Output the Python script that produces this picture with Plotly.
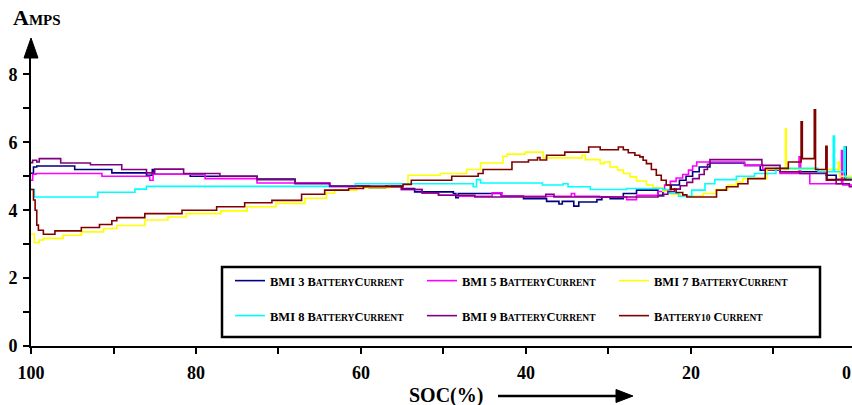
import plotly.graph_objects as go

# ---------------- data (SOC %, Amps) ----------------
bmi3 = [(100, 5.09), (99.7, 5.27), (99.3, 5.30), (94.7, 5.20), (90.2, 5.10), (86.0, 5.03),
        (85.3, 5.20), (85.1, 5.06), (80.7, 5.00), (72.6, 4.92), (68.0, 4.80), (63.8, 4.71),
        (59.0, 4.66), (57.0, 4.71), (55.0, 4.64), (53.5, 4.54), (48.8, 4.49), (48.5, 4.37),
        (48.2, 4.49), (43.0, 4.42), (40.3, 4.34), (37.5, 4.26), (36.0, 4.18), (35.6, 4.26),
        (34.2, 4.12), (33.6, 4.24), (31.4, 4.31), (30.8, 4.39), (29.8, 4.34), (28.2, 4.49),
        (26.6, 4.59), (24.0, 4.44), (23.4, 4.60), (22.4, 4.74), (21.4, 4.88), (20.6, 5.00),
        (19.8, 5.13), (19.0, 5.27), (17.7, 5.39), (13.5, 5.32), (11.6, 5.18), (9.2, 5.13),
        (3.6, 5.03), (2.4, 4.90), (1.35, 5.86), (1.2, 4.90), (0.5, 4.90)]

bmi5 = [(100, 4.88), (99.8, 5.06), (99.4, 5.08), (91.4, 5.00), (85.6, 4.88), (85.2, 5.06),
        (78.9, 4.93), (72.6, 4.80), (63.8, 4.69), (55.1, 4.61), (52.6, 4.51), (50.6, 4.44),
        (48.2, 4.41), (44.1, 4.51), (42.9, 4.41), (34.5, 4.49), (34.1, 4.41), (31.1, 4.39),
        (27.8, 4.31), (26.6, 4.44), (24.0, 4.55), (23.2, 4.74), (22.5, 4.85), (21.8, 4.95),
        (21.0, 5.05), (20.3, 5.18), (19.8, 5.30), (19.3, 5.42), (13.5, 5.32), (11.3, 5.20),
        (9.2, 5.08), (6.9, 5.57), (6.7, 5.08), (5.6, 4.78), (1.75, 5.76), (1.6, 4.74),
        (0.5, 4.69)]

bmi7 = [(100, 3.30), (99.6, 3.05), (99.0, 3.12), (98.5, 3.17), (96.1, 3.26), (93.9, 3.36),
        (91.2, 3.46), (89.6, 3.55), (86.2, 3.71), (83.4, 3.80), (81.2, 3.90), (77.0, 3.98),
        (73.8, 4.10), (70.3, 4.20), (66.8, 4.35), (64.2, 4.50), (63.2, 4.59), (60.5, 4.66),
        (56.5, 4.78), (54.3, 5.03), (50.4, 5.08), (47.2, 5.20), (45.5, 5.39), (42.8, 5.59),
        (42.3, 5.65), (40.1, 5.71), (37.9, 5.54), (33.2, 5.62), (32.8, 5.49), (31.0, 5.37),
        (30.5, 5.42), (29.8, 5.27), (28.9, 5.18), (28.2, 5.08), (27.4, 4.98), (26.6, 4.86),
        (25.4, 4.74), (24.6, 4.66), (23.4, 4.56), (22.4, 4.47), (21.3, 4.42), (18.5, 4.49),
        (17.0, 4.61), (15.5, 4.74), (14.5, 4.83), (13.7, 4.93), (10.8, 5.20), (8.55, 6.40),
        (8.45, 5.20), (2.15, 5.42), (2.0, 5.00), (0.5, 4.95)]

bmi8 = [(100, 4.61), (99.6, 4.39), (91.9, 4.53), (87.4, 4.62), (86.0, 4.70), (60.7, 4.78),
        (46.4, 4.69), (46.0, 4.90), (45.5, 4.80), (38.0, 4.74), (35.5, 4.78), (34.9, 4.69),
        (32.2, 4.61), (27.8, 4.64), (23.4, 4.61), (22.6, 4.50), (21.5, 4.41), (19.9, 4.59),
        (18.3, 4.78), (17.1, 4.90), (14.5, 5.00), (12.3, 5.08), (9.7, 5.23), (4.6, 5.13),
        (2.75, 6.18), (2.6, 5.13), (1.45, 5.86), (1.3, 4.95), (0.5, 4.95)]

bmi9 = [(100, 5.40), (99.8, 5.47), (99.3, 5.42), (99.0, 5.52), (96.4, 5.39), (92.8, 5.34),
        (89.0, 5.20), (86.0, 5.10), (85.0, 5.21), (81.5, 5.08), (77.1, 5.00), (72.6, 4.90),
        (68.0, 4.78), (63.8, 4.71), (55.1, 4.61), (52.6, 4.51), (50.6, 4.44), (46.2, 4.39),
        (37.6, 4.47), (36.6, 4.39), (24.0, 4.42), (23.3, 4.47), (22.8, 4.55), (22.0, 4.62),
        (21.3, 4.72), (20.5, 4.82), (19.8, 4.93), (19.0, 5.05), (18.4, 5.20), (18.0, 5.35),
        (17.7, 5.49), (11.4, 5.32), (9.2, 5.13), (6.8, 5.08), (3.6, 4.88), (2.4, 4.78),
        (0.8, 4.69), (0.5, 4.69)]

battery10 = [(100, 4.61), (99.7, 4.30), (99.5, 4.00), (99.3, 3.56), (99.1, 3.41), (98.5, 3.29),
             (97.1, 3.39), (93.9, 3.49), (91.7, 3.58), (90.2, 3.69), (89.6, 3.78), (86.2, 3.90),
             (81.7, 4.00), (77.5, 4.10), (74.1, 4.22), (70.8, 4.29), (67.2, 4.47), (64.4, 4.59),
             (61.5, 4.64), (59.7, 4.69), (54.9, 4.76), (53.9, 4.88), (49.0, 5.00), (45.8, 5.08),
             (45.2, 5.20), (41.7, 5.42), (39.7, 5.48), (38.6, 5.55), (38.3, 5.48), (37.5, 5.62),
             (35.3, 5.71), (32.4, 5.86), (31.0, 5.78), (28.8, 5.86), (28.2, 5.78), (27.6, 5.69),
             (26.8, 5.62), (26.2, 5.57), (25.8, 5.47), (25.4, 5.37), (24.8, 5.20), (24.2, 5.03),
             (23.6, 4.88), (23.0, 4.74), (22.5, 4.62), (21.8, 4.52), (21.0, 4.45), (20.5, 4.39),
             (16.9, 4.59), (15.7, 4.69), (14.3, 4.78), (13.1, 4.93), (11.0, 5.23), (8.2, 5.42),
             (6.65, 6.60), (6.5, 5.52), (5.05, 6.96), (4.9, 5.20), (3.65, 5.88), (3.5, 4.90),
             (0.5, 4.90)]

x_tick_vals = [100, 90, 80, 70, 60, 50, 40, 30, 20, 10]
x_tick_text = ["100", "", "80", "", "60", "", "40", "", "20", ""]
y_tick_vals = [0, 1, 2, 3, 4, 5, 6, 7, 8]
y_tick_text = ["0", "", "2", "", "4", "", "6", "", "8"]

SM = "font-size:9.5px"


def sc(word):
    return word[0] + "<span style='%s'>%s</span>" % (SM, word[1:])


series = [
    ("BMI 3 " + sc("BATTERY") + sc("CURRENT"), bmi3, "#000080", "legend"),
    ("BMI 5 " + sc("BATTERY") + sc("CURRENT"), bmi5, "#FF00FF", "legend"),
    ("BMI 7 " + sc("BATTERY") + sc("CURRENT"), bmi7, "#FFFF00", "legend"),
    ("BMI 8 " + sc("BATTERY") + sc("CURRENT"), bmi8, "#00FFFF", "legend2"),
    ("BMI 9 " + sc("BATTERY") + sc("CURRENT"), bmi9, "#800080", "legend2"),
    ("B<span style='%s'>ATTERY10</span> " % SM + sc("CURRENT"), battery10, "#800000", "legend2"),
]

SERIF = "Liberation Serif"
W, H = 852, 405
ML, MR, MT, MB = 31, 0, 54, 59
PW, PH = W - ML - MR, H - MT - MB


def px(x):
    return (x - ML) / PW


def py(y):
    return (H - MB - y) / PH


fig = go.Figure()
for name, pts, color, leg in series:
    fig.add_trace(go.Scatter(
        x=[p[0] for p in pts], y=[p[1] for p in pts], name=name, mode="lines",
        line=dict(color=color, width=1.6, shape="hv"), legend=leg))

legend_common = dict(orientation="h", xanchor="left", yanchor="middle",
                     bgcolor="rgba(0,0,0,0)", borderwidth=0, itemwidth=30,
                     entrywidth=147, entrywidthmode="pixels",
                     font=dict(family=SERIF, size=12.5, color="black", weight="bold"))

shapes = [
    # legend frame
    dict(type="rect", xref="paper", yref="paper", x0=px(222), x1=px(820), y0=py(337), y1=py(267),
         line=dict(color="black", width=2.5), fillcolor="white", layer="above"),
    # y axis arrow head
    dict(type="path", xref="paper", yref="paper",
         path="M %f,%f L %f,%f L %f,%f Z" % (px(24), py(58), px(31), py(38), px(38), py(58)),
         fillcolor="black", line=dict(color="black", width=1)),
    # SOC arrow
    dict(type="line", xref="paper", yref="paper", x0=px(498), x1=px(620), y0=py(396), y1=py(396),
         line=dict(color="black", width=2.5)),
    dict(type="path", xref="paper", yref="paper",
         path="M %f,%f L %f,%f L %f,%f Z" % (px(616), py(389.5), px(633), py(396), px(616), py(402.5)),
         fillcolor="black", line=dict(color="black", width=1)),
]

annotations = [
    dict(text="A<span style='font-size:15px'>MPS</span>", xref="paper", yref="paper",
         x=px(11), y=py(17), xanchor="left", yanchor="middle", showarrow=False,
         font=dict(family=SERIF, size=22, color="black", weight="bold")),
    dict(text="SOC(%)", xref="paper", yref="paper", x=px(446), y=py(395),
         xanchor="center", yanchor="middle", showarrow=False,
         font=dict(family=SERIF, size=20, color="black", weight="bold")),
    dict(text="0", xref="paper", yref="paper", x=px(852), y=py(373),
         xanchor="right", yanchor="middle", showarrow=False, borderpad=0,
         font=dict(family=SERIF, size=18, color="black", weight="bold")),
]

fig.update_layout(
    width=W, height=H, autosize=False,
    margin=dict(l=ML, r=MR, t=MT, b=MB, pad=0),
    paper_bgcolor="white", plot_bgcolor="white",
    showlegend=True,
    legend=dict(legend_common, x=px(230), y=py(281)),
    legend2=dict(legend_common, x=px(230), y=py(316)),
    shapes=shapes, annotations=annotations,
    xaxis=dict(range=[100, 0.48], tickmode="array", tickvals=x_tick_vals, ticktext=x_tick_text,
               ticks="outside", ticklen=6, tickwidth=1.5, tickcolor="black",
               showline=True, linewidth=2, linecolor="black", showgrid=False, zeroline=False,
               ticklabelstandoff=3,
               tickfont=dict(family=SERIF, size=18, color="black", weight="bold")),
    yaxis=dict(range=[0, 8.6], tickmode="array", tickvals=y_tick_vals, ticktext=y_tick_text,
               ticks="outside", ticklen=6, tickwidth=1.5, tickcolor="black",
               showline=True, linewidth=2, linecolor="black", showgrid=False, zeroline=False,
               ticklabelstandoff=2,
               tickfont=dict(family=SERIF, size=18, color="black", weight="bold")),
)

fig.write_html("out.html")
